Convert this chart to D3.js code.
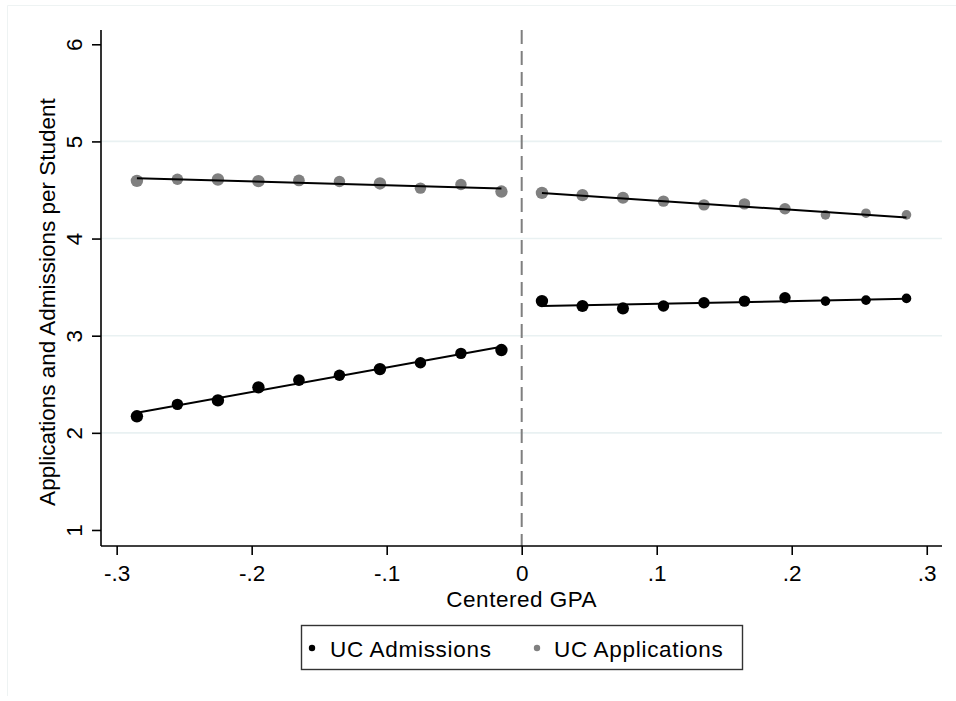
<!DOCTYPE html>
<html>
<head>
<meta charset="utf-8">
<script src="https://cdn.jsdelivr.net/npm/d3@7"></script>
<style>
  html, body { margin: 0; padding: 0; background: #fff; }
  svg { display: block; }
  text { font-family: "Liberation Sans", Arial, Helvetica, sans-serif; fill: #000; }
</style>
</head>
<body>
<svg id="chart" width="956" height="701"></svg>
<script>
// Binned means of centered GPA (bin midpoints), below and above the cutoff
const binsBelow = [-0.285, -0.255, -0.225, -0.195, -0.165, -0.135, -0.105, -0.075, -0.045, -0.015];
const binsAbove = [0.015, 0.045, 0.075, 0.105, 0.135, 0.165, 0.195, 0.225, 0.255, 0.285];

// UC applications per student
const appsBelow = [4.594, 4.611, 4.608, 4.591, 4.598, 4.587, 4.567, 4.519, 4.557, 4.484];
const appsAbove = [4.470, 4.447, 4.420, 4.385, 4.347, 4.357, 4.306, 4.244, 4.261, 4.244];

// UC admissions per student
const admBelow = [2.170, 2.293, 2.334, 2.468, 2.543, 2.592, 2.656, 2.721, 2.818, 2.852];
const admAbove = [3.356, 3.305, 3.281, 3.305, 3.340, 3.356, 3.390, 3.356, 3.366, 3.384];

// Relative number of students in each bin (marker area)
const weightBelow = [1.0, 0.85, 1.0, 1.0, 0.9, 0.85, 1.0, 0.85, 0.85, 1.0];
const weightAbove = [1.0, 0.95, 0.95, 0.85, 0.85, 0.85, 0.85, 0.6, 0.6, 0.6];

// Linear fit values at the ends of each side
const appsFitBelow = [4.621, 4.515];
const appsFitAbove = [4.470, 4.216];
const admFitBelow = [2.207, 2.886];
const admFitAbove = [3.305, 3.380];

// Axis ticks
const xTicks = [-0.3, -0.2, -0.1, 0, 0.1, 0.2, 0.3];
const yTicks = [1, 2, 3, 4, 5, 6];
const gridTicks = [2, 3, 4, 5];

const seriesNames = ["UC Admissions", "UC Applications"];
const colAdm = "#000000";
const colApps = "#808080";

const svg = d3.select("#chart");
const plot = { left: 101, right: 942, top: 30, bottom: 546 };
const fs = "22.5px";

const x = d3.scaleLinear().domain([-0.3116, 0.3113]).range([plot.left, plot.right]);
const y = d3.scaleLinear().domain([0.835, 6.147]).range([plot.bottom, plot.top]);
const r = d3.scaleSqrt().domain([0, 1]).range([0, 6.2]);

// Stata-style labels: "-.3", ".1", "0"
const fmt = v => v === 0 ? "0" : (v < 0 ? "-" : "") + Math.abs(v).toFixed(1).replace(/^0/, "");

// faint outer frame
svg.append("line").attr("x1", 7.5).attr("x2", 956).attr("y1", 5.5).attr("y2", 5.5)
  .attr("stroke", "#eef3f3").attr("stroke-width", 1);
svg.append("line").attr("x1", 7.5).attr("x2", 7.5).attr("y1", 5.5).attr("y2", 696)
  .attr("stroke", "#eef3f3").attr("stroke-width", 1);

// gridlines
svg.append("g").selectAll("line").data(gridTicks).join("line")
  .attr("x1", plot.left).attr("x2", plot.right)
  .attr("y1", d => y(d)).attr("y2", d => y(d))
  .attr("stroke", "#e9f1f2").attr("stroke-width", 1.6);

// cutoff line
svg.append("line")
  .attr("x1", x(0)).attr("x2", x(0)).attr("y1", plot.top).attr("y2", plot.bottom)
  .attr("stroke", "#7f7f7f").attr("stroke-width", 2).attr("stroke-dasharray", "14 7");

// axes
const yAxis = d3.axisLeft(y).tickValues(yTicks).tickSize(9).tickFormat(d3.format("d"));
const gy = svg.append("g").attr("transform", `translate(${plot.left},0)`).call(yAxis);
gy.select(".domain").attr("d", `M0,${plot.top}V${plot.bottom}`).attr("stroke", "#000").attr("stroke-width", 1.6);
gy.selectAll(".tick line").attr("stroke", "#000").attr("stroke-width", 1.6);
gy.selectAll(".tick text")
  .attr("x", null).attr("dy", null)
  .attr("transform", "translate(-27.5,0) rotate(-90)")
  .attr("text-anchor", "middle").attr("dy", "0.36em")
  .style("font-size", fs);

const xAxis = d3.axisBottom(x).tickValues(xTicks).tickSize(9).tickFormat(fmt);
const gx = svg.append("g").attr("transform", `translate(0,${plot.bottom})`).call(xAxis);
gx.select(".domain").attr("d", `M${plot.left},0H${plot.right}`).attr("stroke", "#000").attr("stroke-width", 1.6);
gx.selectAll(".tick line").attr("stroke", "#000").attr("stroke-width", 1.6);
gx.selectAll(".tick text").attr("y", 35).attr("dy", null).style("font-size", fs);

// axis titles
svg.append("text").attr("x", x(0)).attr("y", 606.5).attr("text-anchor", "middle")
  .style("font-size", fs).style("letter-spacing", "0.5px").text("Centered GPA");
svg.append("text").attr("transform", "translate(55,302) rotate(-90)")
  .attr("text-anchor", "middle").style("font-size", fs)
  .text("Applications and Admissions per Student");

// fit lines
const fits = [
  { xs: [binsBelow[0], binsBelow[binsBelow.length - 1]], ys: appsFitBelow },
  { xs: [binsAbove[0], binsAbove[binsAbove.length - 1]], ys: appsFitAbove },
  { xs: [binsBelow[0], binsBelow[binsBelow.length - 1]], ys: admFitBelow },
  { xs: [binsAbove[0], binsAbove[binsAbove.length - 1]], ys: admFitAbove }
];

function drawPoints(xs, ys, ws, color) {
  svg.append("g").selectAll("circle").data(xs.map((d, i) => ({ x: d, y: ys[i], w: ws[i] })))
    .join("circle")
    .attr("cx", d => x(d.x)).attr("cy", d => y(d.y)).attr("r", d => r(d.w))
    .attr("fill", color);
}

drawPoints(binsBelow, appsBelow, weightBelow, colApps);
drawPoints(binsAbove, appsAbove, weightAbove, colApps);
drawPoints(binsBelow, admBelow, weightBelow, colAdm);
drawPoints(binsAbove, admAbove, weightAbove, colAdm);

const line = d3.line().x(d => x(d[0])).y(d => y(d[1]));
svg.append("g").selectAll("path").data(fits).join("path")
  .attr("d", f => line(f.xs.map((v, i) => [v, f.ys[i]])))
  .attr("fill", "none").attr("stroke", "#000").attr("stroke-width", 2);

// legend
const lg = svg.append("g");
lg.append("rect").attr("x", 301.5).attr("y", 625.5).attr("width", 441).attr("height", 44)
  .attr("fill", "#fff").attr("stroke", "#333").attr("stroke-width", 1.4);
const legendItems = [
  { name: seriesNames[0], color: colAdm, mx: 312, tx: 330 },
  { name: seriesNames[1], color: colApps, mx: 537, tx: 554 }
];
legendItems.forEach(it => {
  lg.append("circle").attr("cx", it.mx).attr("cy", 648).attr("r", 3.2).attr("fill", it.color);
  lg.append("text").attr("x", it.tx).attr("y", 656.5).style("font-size", fs)
    .style("letter-spacing", "0.7px").text(it.name);
});
</script>
</body>
</html>
